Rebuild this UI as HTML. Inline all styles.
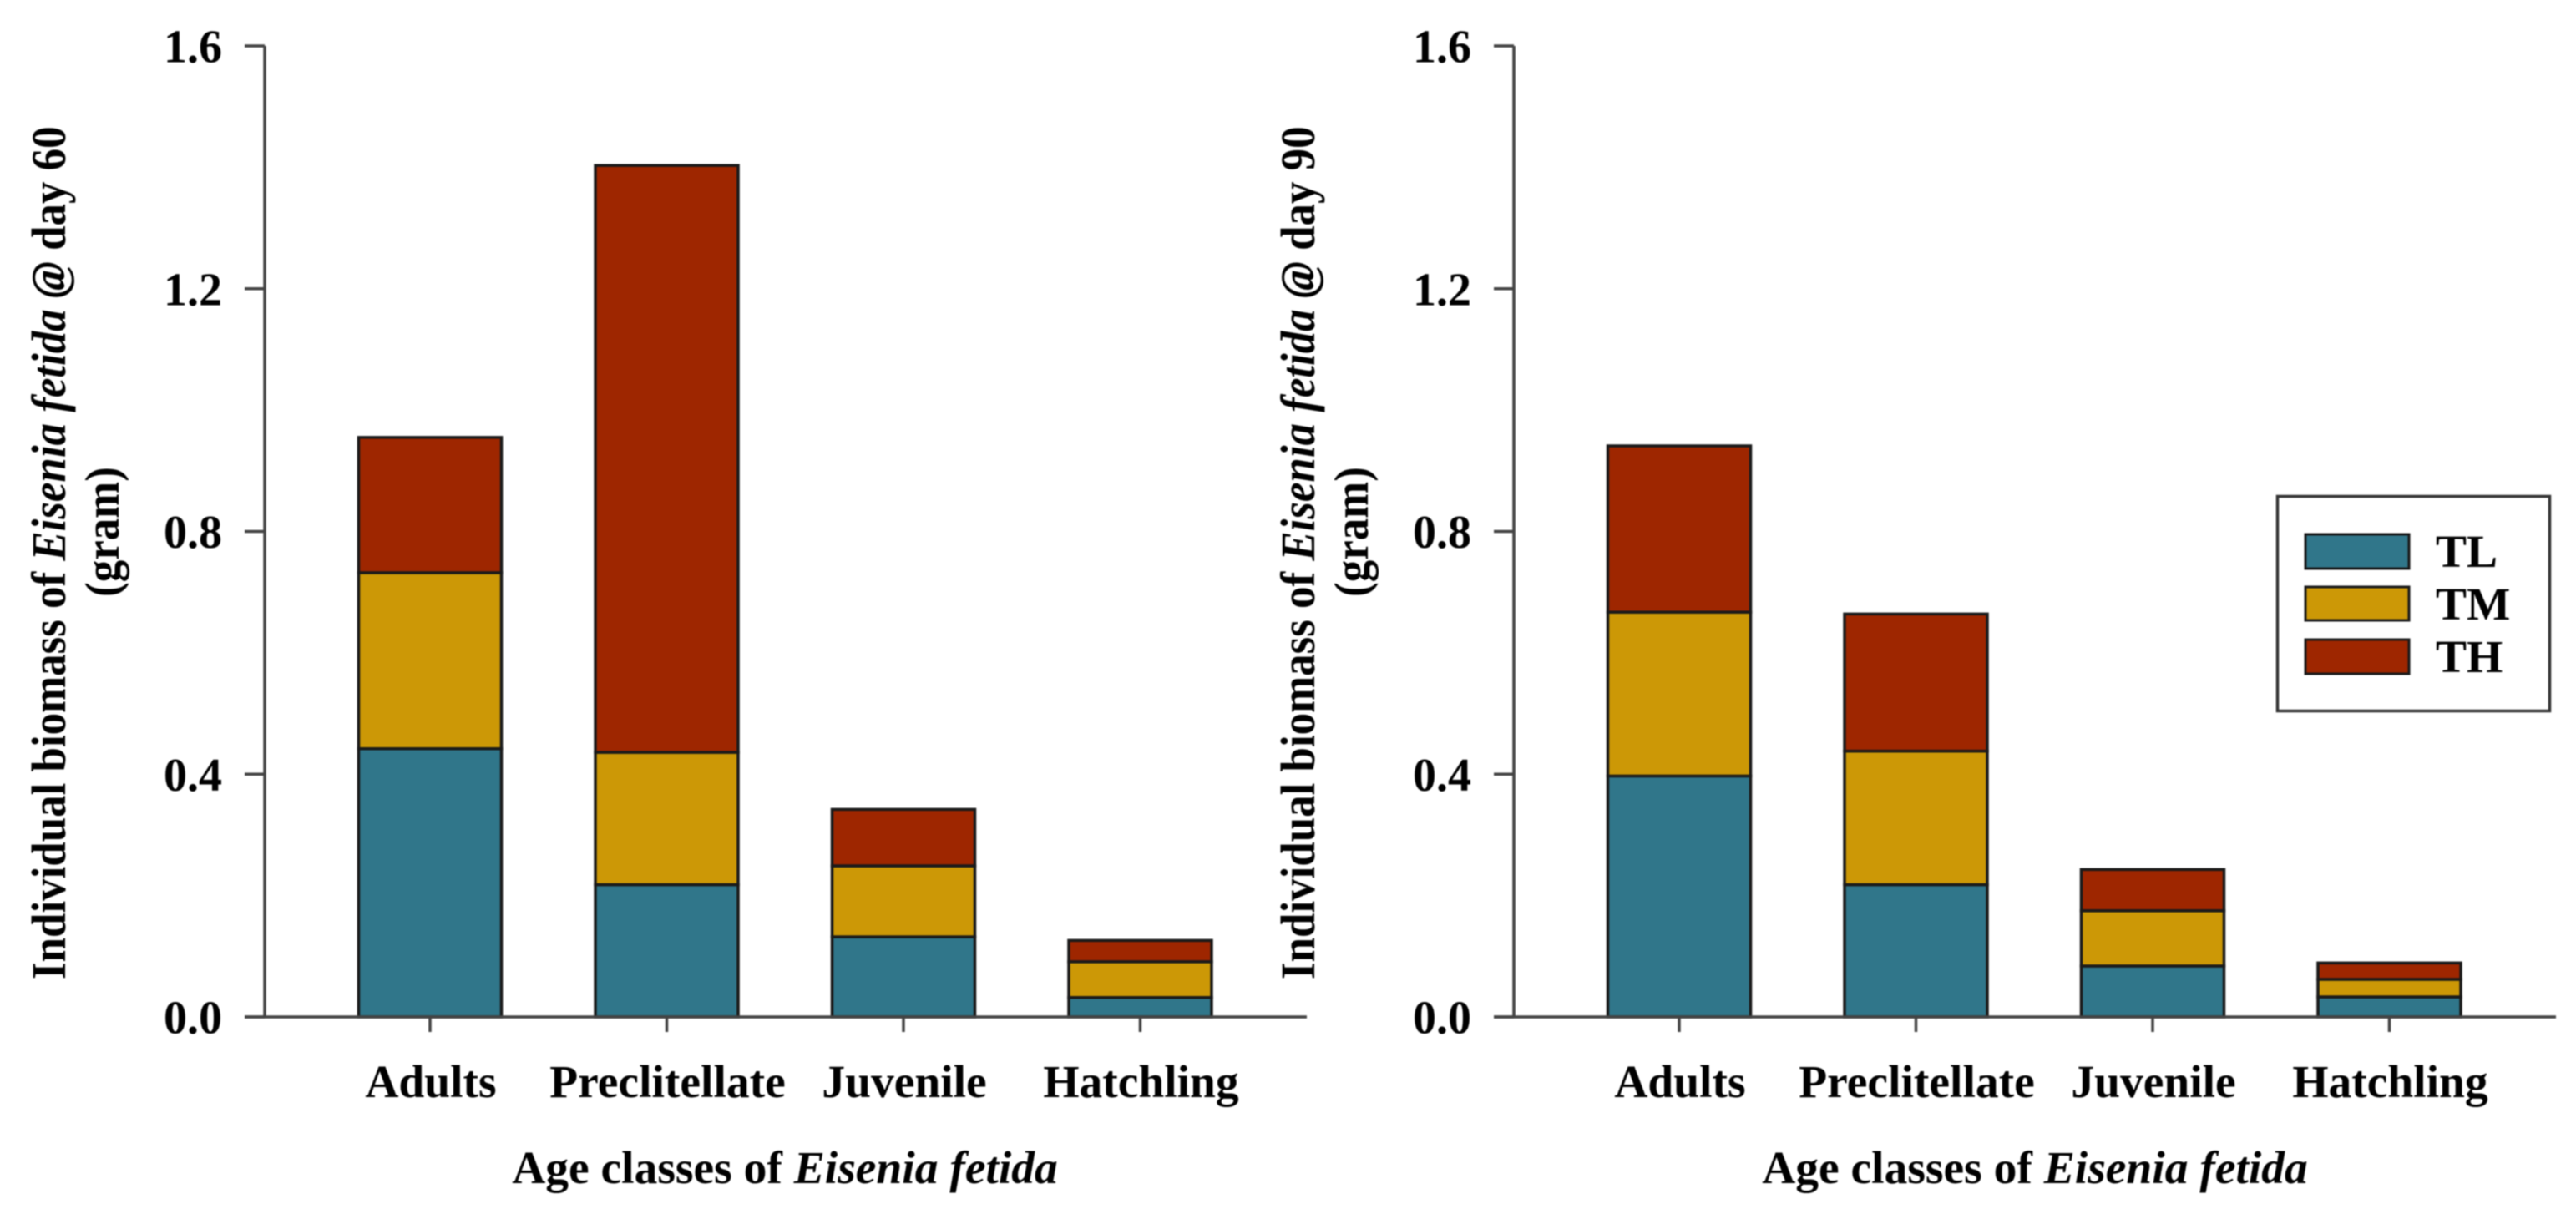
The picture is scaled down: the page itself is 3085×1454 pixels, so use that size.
<!DOCTYPE html>
<html lang="en">
<head>
<meta charset="utf-8">
<title>Individual biomass of Eisenia fetida by age class</title>
<style>
html,body{margin:0;padding:0;background:#fff;width:3085px;height:1454px;overflow:hidden}
svg{display:block;filter:blur(0.8px)}
text{font-family:"Liberation Serif","Times New Roman",serif;font-weight:bold;fill:#000;font-size:55.5px}
</style>
</head>
<body>
<svg id="chart" xmlns="http://www.w3.org/2000/svg" width="3085" height="1454" viewBox="0 0 3085 1454">
  <rect x="0" y="0" width="3085" height="1454" fill="#ffffff"/>
  <g id="panel-60"></g>
  <g id="panel-90"></g>

  <text style="font-size:54px" transform="translate(78,1173) rotate(-90) scale(0.98,1.07)">Individual biomass of <tspan font-style="italic">Eisenia fetida @</tspan> day 60</text>
  <text style="font-size:54px" text-anchor="middle" transform="translate(142,637) rotate(-90) scale(0.98,1.07)">(gram)</text>
  <text text-anchor="middle" x="940" y="1417">Age classes of <tspan font-style="italic">Eisenia fetida</tspan></text>

  <text style="font-size:54px" transform="translate(1574,1173) rotate(-90) scale(0.98,1.07)">Individual biomass of <tspan font-style="italic">Eisenia fetida @</tspan> day 90</text>
  <text style="font-size:54px" text-anchor="middle" transform="translate(1638,637) rotate(-90) scale(0.98,1.07)">(gram)</text>
  <text text-anchor="middle" x="2437" y="1417">Age classes of <tspan font-style="italic">Eisenia fetida</tspan></text>

  <g>
    <rect x="2727.5" y="594.5" width="326" height="257" fill="#fff" stroke="#333" stroke-width="3.5"/>
    <rect x="2761" y="640" width="124" height="41" fill="#30768a" stroke="#1a1a1a" stroke-width="3"/>
    <text x="2917" y="679">TL</text>
    <rect x="2761" y="703" width="124" height="40" fill="#cc9806" stroke="#1a1a1a" stroke-width="3"/>
    <text x="2917" y="742">TM</text>
    <rect x="2761" y="766" width="124" height="41" fill="#9e2600" stroke="#1a1a1a" stroke-width="3"/>
    <text x="2917" y="805">TH</text>
  </g>
</svg>
<script>
const categories = ["Adults", "Preclitellate", "Juvenile", "Hatchling"];
const yTickValues = [0, 0.4, 0.8, 1.2, 1.6];
const yTickLabels = ["0.0", "0.4", "0.8", "1.2", "1.6"];
const day60TL = [0.442, 0.218, 0.132, 0.032];
const day60TM = [0.290, 0.218, 0.117, 0.059];
const day60TH = [0.223, 0.967, 0.093, 0.035];
const day90TL = [0.397, 0.218, 0.084, 0.033];
const day90TM = [0.270, 0.220, 0.091, 0.029];
const day90TH = [0.274, 0.226, 0.068, 0.027];

const NS = "http://www.w3.org/2000/svg";
const Y0 = 1218, Y1 = 55, YMAX = 1.6;
const BAR_W = 171, STEP = 283.5;

function yScale(v) { return Y0 - (v / YMAX) * (Y0 - Y1); }

function make(tag, props, parent) {
  const el = document.createElementNS(NS, tag);
  for (const k in props) el.setAttribute(k, props[k]);
  parent.appendChild(el);
  return el;
}

function drawPanel(parent, axisX, firstCenter, axisEnd, tl, tm, th) {
  const xScale = function (i) { return firstCenter + i * STEP; };
  const seriesList = [
    { key: "tl", values: tl, color: "#30768a" },
    { key: "tm", values: tm, color: "#cc9806" },
    { key: "th", values: th, color: "#9e2600" }
  ];

  categories.forEach(function (cat, i) {
    let base = 0;
    seriesList.forEach(function (s) {
      const top = base + s.values[i];
      const bar = make("rect", {
        x: xScale(i) - BAR_W / 2,
        y: yScale(top),
        width: BAR_W,
        height: yScale(base) - yScale(top),
        fill: s.color,
        stroke: "#1a1a1a",
        "stroke-width": 3.5
      }, parent);
      
      
      base = top;
    });
  });

  const yAxis = make("line", { x1: axisX, x2: axisX, y1: Y1, y2: Y0, stroke: "#444", "stroke-width": 3.5 }, parent);
  
  

  const xAxis = make("line", { x1: axisX - 24, x2: axisEnd, y1: Y0, y2: Y0, stroke: "#444", "stroke-width": 3.5 }, parent);
  
  

  yTickValues.forEach(function (v, i) {
    const tick = make("line", { x1: axisX - 24, x2: axisX, y1: yScale(v), y2: yScale(v), stroke: "#444", "stroke-width": 3.5 }, parent);
    
    

    const label = make("text", { x: axisX - 51, y: yScale(v) + 19.5, "text-anchor": "end", style: "font-size:56px" }, parent);
    label.textContent = yTickLabels[i];
    
    
  });

  categories.forEach(function (cat, i) {
    const tick = make("line", { x1: xScale(i), x2: xScale(i), y1: Y0, y2: Y0 + 18, stroke: "#444", "stroke-width": 3.5 }, parent);
    
    

    const label = make("text", { x: xScale(i) + 1, y: 1314, "text-anchor": "middle" }, parent);
    label.textContent = cat;
    
    
  });
}

drawPanel(document.getElementById("panel-60"), 317, 515, 1565, day60TL, day60TM, day60TH);
drawPanel(document.getElementById("panel-90"), 1813, 2011, 3061, day90TL, day90TM, day90TH);
</script>
</body>
</html>
